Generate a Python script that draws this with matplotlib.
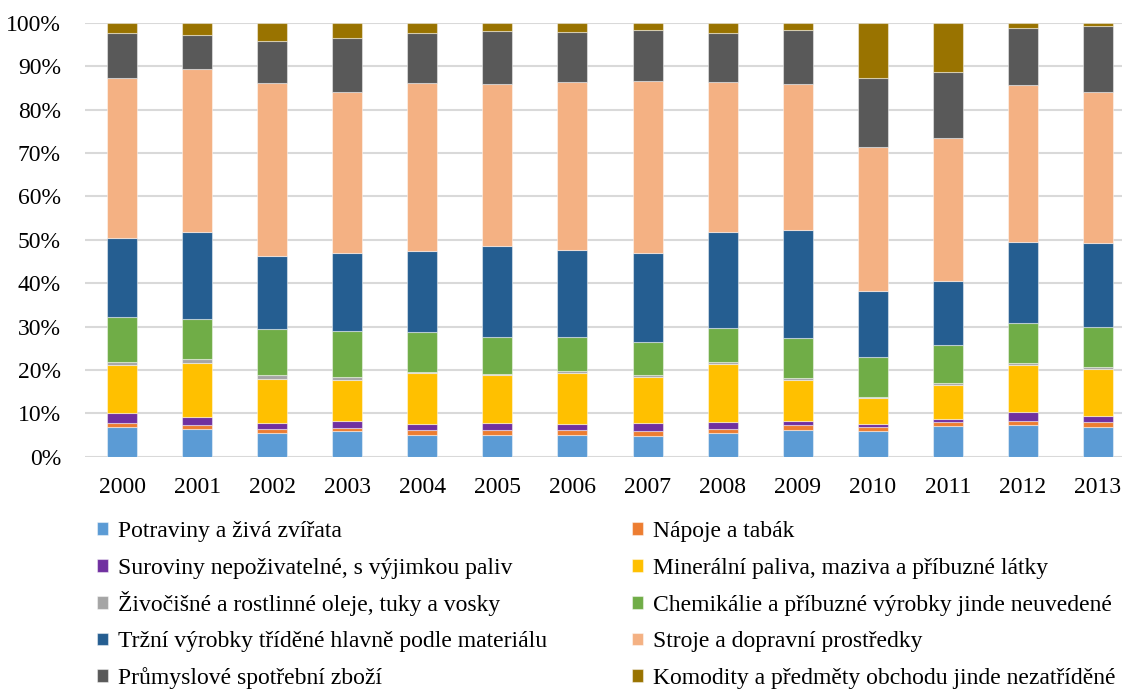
import numpy as np
import matplotlib
matplotlib.use("Agg")
import matplotlib.pyplot as plt
from matplotlib.ticker import PercentFormatter

plt.rcParams['font.family'] = ['Liberation Serif', 'DejaVu Serif']

years = [str(y) for y in range(2000, 2014)]

labels = [
    "Potraviny a živá zvířata",
    "Nápoje a tabák",
    "Suroviny nepoživatelné, s výjimkou paliv",
    "Minerální paliva, maziva a příbuzné látky",
    "Živočišné a rostlinné oleje, tuky a vosky",
    "Chemikálie a příbuzné výrobky jinde neuvedené",
    "Tržní výrobky tříděné hlavně podle materiálu",
    "Stroje a dopravní prostředky",
    "Průmyslové spotřební zboží",
    "Komodity a předměty obchodu jinde nezatříděné",
]
colors = ["#5B9BD5", "#ED7D31", "#7030A0", "#FFC000", "#A5A5A5",
          "#70AD47", "#255E91", "#F4B183", "#595959", "#997300"]

# shares in % per year
food  = [6.8, 6.3, 5.4, 5.9, 5.1, 5.1, 5.1, 4.8, 5.5, 6.1, 6.0, 7.1, 7.2, 6.9]
bev   = [1.0, 1.0, 1.1, 0.8, 1.0, 1.0, 1.0, 1.2, 1.0, 1.1, 0.8, 0.8, 1.0, 1.0]
crude = [2.3, 1.9, 1.3, 1.5, 1.4, 1.6, 1.4, 1.7, 1.4, 1.0, 0.7, 0.9, 2.2, 1.4]
fuels = [11.0, 12.4, 10.2, 9.6, 11.8, 11.1, 11.8, 10.7, 13.4, 9.4, 6.0, 7.8, 10.7, 11.0]
oils  = [0.7, 0.9, 0.8, 0.6, 0.2, 0.3, 0.4, 0.4, 0.6, 0.5, 0.3, 0.4, 0.5, 0.4]
chem  = [10.4, 9.3, 10.6, 10.6, 9.2, 8.4, 7.8, 7.6, 7.8, 9.2, 9.3, 8.7, 9.3, 9.3]
manuf = [18.3, 20.0, 16.8, 17.9, 18.8, 21.0, 20.1, 20.6, 22.1, 24.9, 15.1, 14.8, 18.6, 19.3]
mach  = [36.8, 37.5, 40.0, 37.1, 38.7, 37.4, 38.9, 39.7, 34.6, 33.7, 33.2, 33.0, 36.2, 34.7]
misc  = [10.5, 8.0, 9.7, 12.6, 11.5, 12.3, 11.4, 11.8, 11.4, 12.5, 16.0, 15.1, 13.2, 15.2]
other = [2.2, 2.7, 4.1, 3.4, 2.3, 1.8, 2.1, 1.5, 2.2, 1.6, 12.6, 11.4, 1.1, 0.8]

series = np.array([food, bev, crude, fuels, oils, chem, manuf, mach, misc, other])
shares = series / series.sum(axis=0)

W, H = 1122, 689
fig = plt.figure(figsize=(W / 100, H / 100), dpi=100)
ax = fig.add_axes([84.5 / W, 1 - 456.7 / H, 1051 / W, 433.7 / H])

x = np.arange(len(years))
bottom = np.zeros(len(years))
handles = []
for vals, lab, col in zip(shares, labels, colors):
    b = ax.bar(x, vals, 0.4, bottom=bottom, color=col, label=lab,
               edgecolor=(1, 1, 1, 0.45), linewidth=0.8, zorder=3)
    handles.append(b)
    bottom += vals

ax.set_xlim(-0.5, len(years) - 0.5)
ax.set_ylim(0, 1)
ax.set_yticks(np.arange(0, 1.01, 0.1))
ax.yaxis.set_major_formatter(PercentFormatter(1.0, decimals=0))
ax.set_xticks(x)
ax.set_xticklabels(years)
ax.tick_params(axis='both', length=0, labelsize=17, colors="#000000")
ax.tick_params(axis='y', pad=17)
ax.tick_params(axis='x', pad=14.5)
ax.grid(axis='y', color="#D9D9D9", linewidth=1.5, zorder=0)
for s in ax.spines.values():
    s.set_visible(False)

# legend: two columns, filled row by row, fixed row pitch
leg_kw = dict(frameon=False, fontsize=17, handlelength=0.45, handleheight=0.45,
              handletextpad=0.45, borderpad=0, borderaxespad=0, loc='lower left')
col_x = [97, 632]
row_y0, row_step = 542, 36.8
for i, (h, lab) in enumerate(zip(handles, labels)):
    row, col = divmod(i, 2)
    fig.legend([h], [lab],
               bbox_to_anchor=(col_x[col] / W, 1 - (row_y0 + row * row_step) / H),
               **leg_kw)

fig.savefig("out.png", dpi=100)
